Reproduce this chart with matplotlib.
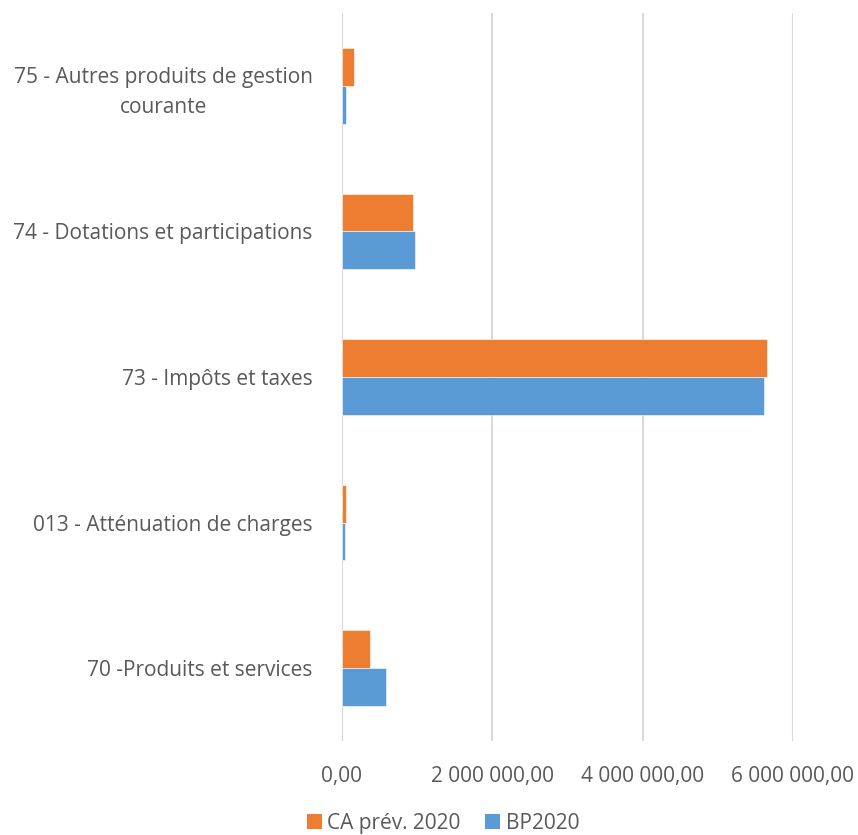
import matplotlib
matplotlib.use("Agg")
import matplotlib.pyplot as plt
import numpy as np
from matplotlib.ticker import FuncFormatter
from matplotlib.patches import Patch

categories = [
    "70 -Produits et services",
    "013 - Atténuation de charges",
    "73 - Impôts et taxes",
    "74 - Dotations et participations",
    "75 - Autres produits de gestion\ncourante",
]
ca_prev_2020 = [368000, 49000, 5650000, 944000, 160000]
bp2020 = [581000, 36000, 5615000, 971000, 53000]
series_names = ["CA prév. 2020", "BP2020"]
xticks = [0, 2000000, 4000000, 6000000]

ORANGE = "#ED7D31"
BLUE = "#5B9BD5"
TEXT = "#595959"
GRID = "#D9D9D9"
FS = 15

plt.rcParams["font.family"] = ["Open Sans", "DejaVu Sans"]

fig = plt.figure(figsize=(8.58, 8.35), dpi=100)
ax = fig.add_axes([0.3986, 0.1126, 0.5256, 0.8718])

y = np.arange(len(categories))
h = 0.26
ax.barh(y + h / 2, ca_prev_2020, height=h, color=ORANGE, edgecolor="white", linewidth=0.4, zorder=3)
ax.barh(y - h / 2, bp2020, height=h, color=BLUE, edgecolor="white", linewidth=0.4, zorder=3)

ax.set_xlim(0, 6000000)
ax.set_ylim(-0.5, len(categories) - 0.5)
ax.set_xticks(xticks)


def fmt(v, pos):
    return f"{v:,.2f}".replace(",", " ").replace(".", ",")


ax.xaxis.set_major_formatter(FuncFormatter(fmt))
ax.set_yticks(y)
ax.set_yticklabels(categories, ha="right", multialignment="center", linespacing=1.55)
ax.tick_params(axis="y", length=0, pad=21, labelsize=FS, labelcolor=TEXT)
ax.tick_params(axis="x", length=0, pad=18, labelsize=FS, labelcolor=TEXT)

ax.grid(axis="x", color=GRID, linewidth=1.5, zorder=0)
for s in ax.spines.values():
    s.set_visible(False)

handles = [Patch(facecolor=ORANGE, edgecolor="none"), Patch(facecolor=BLUE, edgecolor="none")]
fig.legend(handles, series_names, loc="center", bbox_to_anchor=(443 / 858, 0.014),
           ncol=2, frameon=False, fontsize=FS, labelcolor=TEXT,
           handlelength=0.72, handleheight=0.72, handletextpad=0.25, columnspacing=1.2,
           borderpad=0, borderaxespad=0)

fig.savefig("out.png", dpi=100, facecolor="white")
